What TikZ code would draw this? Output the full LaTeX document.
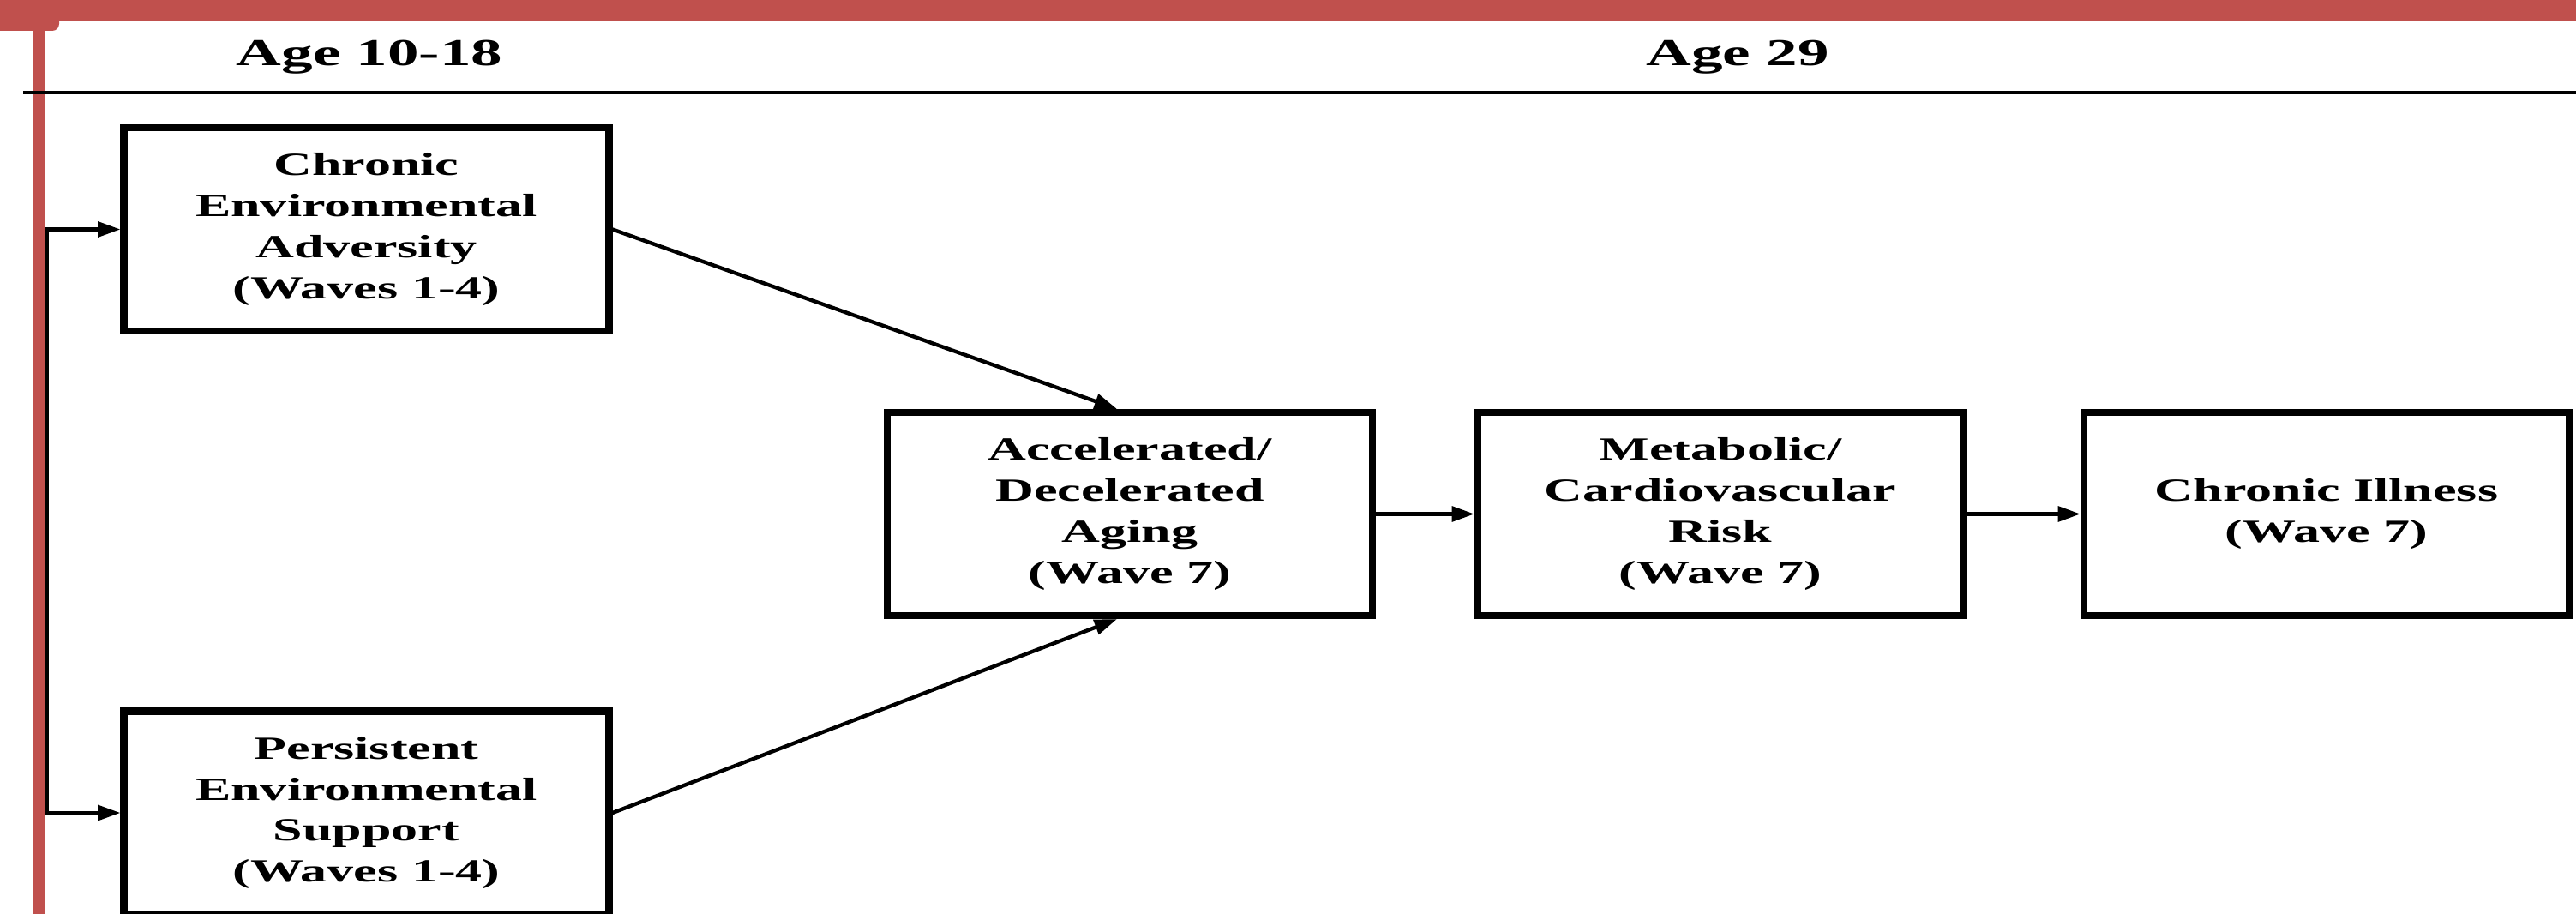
\documentclass[tikz,border=0pt]{standalone}
\usepackage{fontspec}
\setmainfont[FakeStretch=1.65]{Liberation Serif}
\usepackage{tikz}
\usetikzlibrary{positioning,calc,arrows.meta}
\definecolor{slidered}{HTML}{C0504D}

\begin{document}
\begin{tikzpicture}[->,>={Triangle[length=7.5pt,width=5pt]}, line width=1.25pt, auto, node distance=6.89cm]
		\tikzstyle{box}=[draw=black,text=black,line width=2.3pt,minimum width=5.66cm,minimum
		height=2.37cm,align=center,inner sep=0pt,font=\bfseries\fontsize{10.7}{13.6}\selectfont]
		\tikzstyle{hdr}=[anchor=base,inner sep=0pt,font=\bfseries\fontsize{12.6}{15}\selectfont]
		\useasboundingbox (0,0) rectangle (30.05,-10.66);
		% frame of the slide
		\fill[-,slidered] (0,0) rectangle (30.05,-0.25); \fill[-,slidered] (0,0) -- (0,-0.36) --
		(0.61,-0.36) arc[start angle=-90,end angle=0,radius=0.08] -- (0.69,0) -- cycle;
		\fill[-,slidered] (0.38,0) rectangle (0.53,-10.66);
		\draw[-,line width=1.1pt] (0.27,-1.08) -- (30.05,-1.08);
		\begin{scope}
			\node[hdr] (young) at (4.31,-0.77) {Age 10-18}; \node[hdr] (adult) at
			(20.27,-0.77) {Age 29};
			\node[box] (adv) at (4.275,-2.675) {Chronic\\Environmental\\Adversity\\(Waves 1-4)};
			\node[box] (sup) at ($(adv)+(0,-6.805)$)
			{Persistent\\Environmental\\Support\\(Waves 1-4)}; \node[box] (age) at
			($(adv)+(8.905,-3.32)$) {Accelerated/\\Decelerated\\Aging\\(Wave 7)};
			\node[box] (risk) [right of=age] {Metabolic/\\Cardiovascular\\Risk\\(Wave 7)};
			\node[box] (ill) [right of=risk, node distance=7.07cm] {Chronic Illness\\(Wave 7)};
			\coordinate (lft) at (0.545,0);

			\draw[<->] (adv.west) -- (adv.west -| lft) -- (sup.west -| lft) -- (sup.west);
			\path (adv.east) edge ([xshift=-0.15cm]age.north); \path
			(sup.east) edge ([xshift=-0.15cm]age.south); \path (age) edge
			(risk); \path (risk) edge (ill);
		\end{scope}
	\end{tikzpicture}
\end{document}
